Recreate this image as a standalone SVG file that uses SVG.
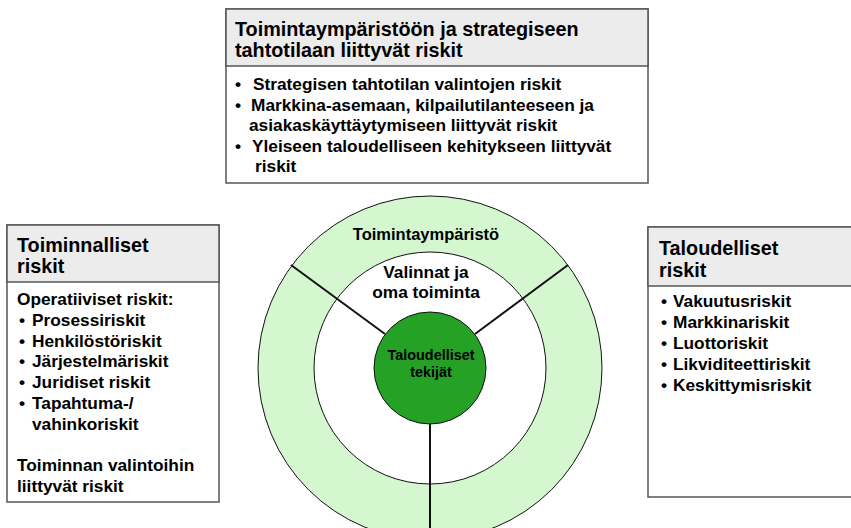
<svg xmlns="http://www.w3.org/2000/svg" width="851" height="528" viewBox="0 0 851 528">
<style>
text{font-family:"Liberation Sans",Arial,sans-serif;font-weight:bold;fill:#000}
.hd{font-size:19.8px}
.bd{font-size:17.3px}
.box{fill:#fff;stroke:#555;stroke-width:1.5}
.head{fill:#ececec;stroke:#555;stroke-width:1.5}
.ring{stroke:#111;stroke-width:1}
.spoke{stroke:#111;stroke-width:2;fill:none}
</style>
<rect width="851" height="528" fill="#fff"/>
<g id="circles">
<circle cx="430" cy="368" r="172" fill="#d5f7d0" class="ring"/>
<circle cx="430" cy="368" r="116" fill="#fff" class="ring"/>
</g>
<g id="connectors">
<line class="spoke" x1="291" y1="265" x2="385" y2="334"/>
<line class="spoke" x1="568" y1="265" x2="475" y2="334"/>
<line class="spoke" x1="430" y1="424" x2="430" y2="528"/>
</g>
<g id="center">
<circle cx="430" cy="368" r="56" fill="#25a125" class="ring"/>
<text x="431" y="360" font-size="14.4" text-anchor="middle">Taloudelliset</text>
<text x="431" y="377" font-size="14.4" text-anchor="middle">tekijät</text>
</g>
<g id="ring-labels">
<text x="426" y="240" font-size="16.5" text-anchor="middle">Toimintaympäristö</text>
<text x="426" y="278" class="bd" text-anchor="middle">Valinnat ja</text>
<text x="426" y="298" class="bd" text-anchor="middle">oma toiminta</text>
</g>
<g id="top-box">
<rect x="226" y="9" width="422" height="174" class="box"/>
<rect x="226" y="9" width="422" height="57" class="head"/>
<text x="235" y="36" class="hd">Toimintaympäristöön ja strategiseen</text>
<text x="235" y="57" class="hd">tahtotilaan liittyvät riskit</text>
<text x="235" y="90" class="bd">•</text>
<text x="253" y="90" class="bd">Strategisen tahtotilan valintojen riskit</text>
<text x="235" y="111" class="bd">•</text>
<text x="251" y="111" class="bd">Markkina-asemaan, kilpailutilanteeseen ja</text>
<text x="249" y="131" class="bd">asiakaskäyttäytymiseen liittyvät riskit</text>
<text x="235" y="152" class="bd">•</text>
<text x="252" y="152" class="bd">Yleiseen taloudelliseen kehitykseen liittyvät</text>
<text x="255" y="172" class="bd">riskit</text>
</g>
<g id="left-box">
<rect x="7" y="225" width="212" height="277" class="box"/>
<rect x="7" y="225" width="212" height="57" class="head"/>
<text x="17" y="252" class="hd">Toiminnalliset</text>
<text x="17" y="273" class="hd">riskit</text>
<text x="17" y="305" class="bd">Operatiiviset riskit:</text>
<text x="19" y="326" class="bd">•</text>
<text x="32" y="326" class="bd">Prosessiriskit</text>
<text x="19" y="347" class="bd">•</text>
<text x="32" y="347" class="bd">Henkilöstöriskit</text>
<text x="19" y="367" class="bd">•</text>
<text x="32" y="367" class="bd">Järjestelmäriskit</text>
<text x="19" y="388" class="bd">•</text>
<text x="32" y="388" class="bd">Juridiset riskit</text>
<text x="19" y="409" class="bd">•</text>
<text x="32" y="409" class="bd">Tapahtuma-/</text>
<text x="32" y="430" class="bd">vahinkoriskit</text>
<text x="17" y="471" class="bd">Toiminnan valintoihin</text>
<text x="17" y="492" class="bd">liittyvät riskit</text>
</g>
<g id="right-box">
<rect x="648" y="227" width="215" height="270" class="box"/>
<rect x="648" y="227" width="215" height="59" class="head"/>
<text x="659" y="255" class="hd">Taloudelliset</text>
<text x="659" y="277" class="hd">riskit</text>
<text x="661" y="307" class="bd">•</text>
<text x="673" y="307" class="bd">Vakuutusriskit</text>
<text x="661" y="328" class="bd">•</text>
<text x="673" y="328" class="bd">Markkinariskit</text>
<text x="661" y="349" class="bd">•</text>
<text x="673" y="349" class="bd">Luottoriskit</text>
<text x="661" y="370" class="bd">•</text>
<text x="673" y="370" class="bd">Likviditeettiriskit</text>
<text x="661" y="391" class="bd">•</text>
<text x="673" y="391" class="bd">Keskittymisriskit</text>
</g>
</svg>
